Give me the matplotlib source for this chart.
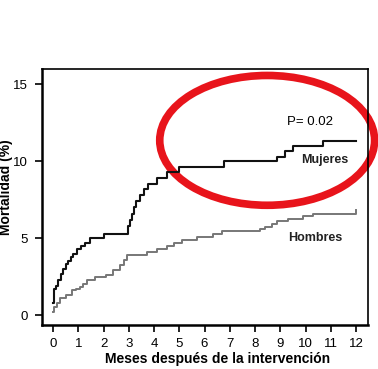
import matplotlib
matplotlib.use("Agg")
from matplotlib import pyplot as plt
from matplotlib.patches import Ellipse

plt.rcParams['font.family'] = ['Liberation Sans', 'DejaVu Sans']

# curva de mortalidad acumulada, mujeres (negro)
mujeres_mes = [0, 0.02, 0.1, 0.2, 0.3, 0.4, 0.5, 0.6, 0.7, 0.8, 0.95, 1.1, 1.25, 1.45,
               2.0, 2.98, 3.05, 3.12, 3.2, 3.3, 3.45, 3.6, 3.75, 4.1, 4.5, 5.0,
               6.78, 8.86, 9.19, 9.52, 10.7, 12.0]
mujeres_pct = [0.8, 1.7, 1.9, 2.3, 2.7, 3.0, 3.3, 3.5, 3.8, 4.0, 4.3, 4.5, 4.7, 5.0,
               5.3, 5.8, 6.2, 6.6, 7.0, 7.4, 7.8, 8.2, 8.5, 8.9, 9.3, 9.6,
               10.0, 10.3, 10.7, 11.0, 11.35, 11.35]

# hombres (gris)
hombres_mes = [0, 0.05, 0.14, 0.28, 0.5, 0.74, 0.9, 1.07, 1.2, 1.33, 1.66, 2.1, 2.39,
               2.65, 2.8, 2.92, 3.71, 4.1, 4.5, 4.77, 5.1, 5.69, 6.35, 6.68, 8.2,
               8.4, 8.66, 8.86, 9.32, 9.9, 10.3, 12.0, 12.0]
hombres_pct = [0.2, 0.5, 0.8, 1.1, 1.3, 1.6, 1.7, 1.85, 2.0, 2.25, 2.5, 2.6, 2.9,
               3.25, 3.6, 3.9, 4.1, 4.3, 4.5, 4.7, 4.9, 5.08, 5.3, 5.48, 5.6,
               5.74, 5.95, 6.13, 6.28, 6.43, 6.56, 6.56, 6.86]

x_ticks = list(range(0, 13))
y_ticks = [0, 5, 10, 15]

fig = plt.figure(figsize=(3.78, 3.69), dpi=100)
ax = fig.add_axes([0.111, 0.119, 0.863, 0.694])

ax.plot(mujeres_mes, mujeres_pct, drawstyle='steps-post', color='#111111', lw=1.5)
ax.plot(hombres_mes, hombres_pct, drawstyle='steps-post', color='#777777', lw=1.4)

ax.set_xlim(-0.44, 12.48)
ax.set_ylim(-0.65, 16.0)
ax.set_xticks(x_ticks)
ax.set_yticks(y_ticks)
ax.tick_params(direction='out', length=5, width=1.2, labelsize=9.5)
ax.tick_params(axis='x', pad=4)
ax.tick_params(axis='y', pad=5)

for side in ['left', 'bottom']:
    ax.spines[side].set_linewidth(1.8)
for side in ['top', 'right']:
    ax.spines[side].set_linewidth(1.2)

ax.set_xlabel("Meses después de la intervención", fontsize=10, fontweight='bold')
ax.xaxis.set_label_coords(0.537, -0.105)
ax.set_ylabel("Mortalidad (%)", fontsize=10, fontweight='bold')
ax.yaxis.set_label_coords(-0.088, 0.54)

ax.text(10.18, 12.55, "P= 0.02", fontsize=9.5, ha='center', va='center')
ax.text(10.77, 10.06, "Mujeres", fontsize=9, fontweight='bold', ha='center', va='center', color='#222222')
ax.text(10.38, 5.0, "Hombres", fontsize=9, fontweight='bold', ha='center', va='center', color='#222222')

# circulo rojo marcado a mano
ell = Ellipse((8.48, 11.36), 8.51, 8.44, fill=False, edgecolor='#e8141b', lw=5.5, clip_on=False)
ax.add_patch(ell)

plt.savefig("out.png", dpi=100)
